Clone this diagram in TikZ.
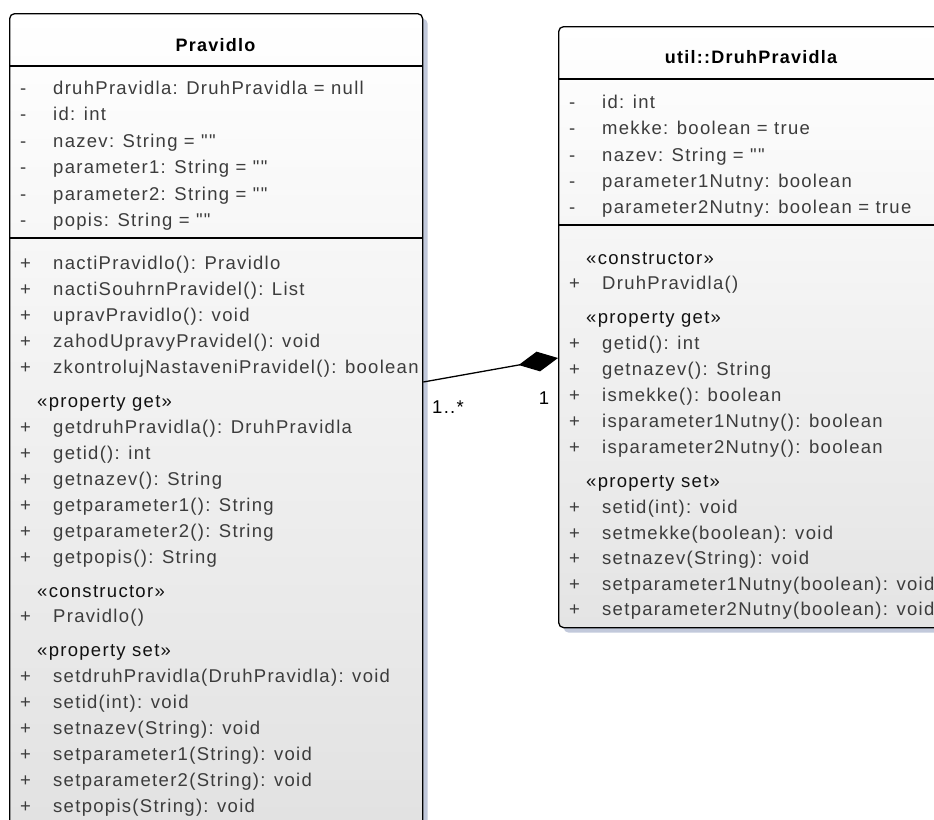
\documentclass[tikz,border=0pt]{standalone}
\usepackage{fontspec}
\newfontfamily\umlfont{Liberation Sans}[LetterSpace=7]
\usetikzlibrary{shadows,arrows.meta}
\definecolor{shadowc}{HTML}{C2C9DB}
\definecolor{botl}{HTML}{E1E1E1}
\definecolor{botr}{HTML}{E4E4E4}
\definecolor{memc}{HTML}{3C3C3C}
\definecolor{stc}{HTML}{111111}
\newcounter{lnc}
% #1 box left x, #2 y centre, #3 visibility, #4 text
\newcommand\mline[4]{%
  \stepcounter{lnc}%
  \node[vismark] (v\thelnc) at (#1+11,#2+6) {#3};%
  \node[member] (m\thelnc) at (#1+44,#2+6) {#4};}
\newcommand\sline[3]{%
  \stepcounter{lnc}%
  \node[stereo] (s\thelnc) at (#1+28,#2+6) {#3};}
\begin{document}
\begin{tikzpicture}[x=1pt,y=-1pt,
  every node/.style={font=\umlfont\fontsize{18.5}{22}\selectfont},
  classbox/.style={draw=black, line width=1.3pt, rounded corners=5pt,
    inner sep=0pt, top color=white,
    general shadow={fill=shadowc, shadow xshift=5pt, shadow yshift=-5pt}},
  sepline/.style={draw=black, line width=1.3pt},
  vismark/.style={anchor=base west, inner sep=0pt, text=memc},
  member/.style={anchor=base west, inner sep=0pt, text=memc},
  stereo/.style={anchor=base west, inner sep=0pt, text=stc},
  title/.style={anchor=base, inner sep=0pt, text=black,
    font=\umlfont\bfseries\fontsize{18}{22}\selectfont},
  mult/.style={inner sep=0pt, text=black},
  compo/.style={line width=1.3pt, draw=black,
    -{Diamond[length=40pt,width=20pt,fill=black]}}]
\useasboundingbox (0,0) rectangle (934,819);
\clip (0,0) rectangle (934,819);

% ---------- Pravidlo ----------
\node[classbox, bottom color=botl, minimum width=413pt, minimum height=835pt,
  anchor=north west] (pravidlo) at (9,13) {};
\draw[sepline] (9,66) -- (422,66);
\draw[sepline] (9,238) -- (422,238);
\node[title] (tp) at (215.5,51) {Pravidlo};
\mline{9}{88}{-}{druhPravidla: DruhPravidla = null}
\mline{9}{114}{-}{id: int}
\mline{9}{141}{-}{nazev: String = ""}
\mline{9}{167}{-}{parameter1: String = ""}
\mline{9}{194}{-}{parameter2: String = ""}
\mline{9}{220}{-}{popis: String = ""}
\mline{9}{263}{+}{nactiPravidlo(): Pravidlo}
\mline{9}{289}{+}{nactiSouhrnPravidel(): List}
\mline{9}{315}{+}{upravPravidlo(): void}
\mline{9}{341}{+}{zahodUpravyPravidel(): void}
\mline{9}{367}{+}{zkontrolujNastaveniPravidel(): boolean}
\sline{9}{401}{«property get»}
\mline{9}{427}{+}{getdruhPravidla(): DruhPravidla}
\mline{9}{453}{+}{getid(): int}
\mline{9}{479}{+}{getnazev(): String}
\mline{9}{505}{+}{getparameter1(): String}
\mline{9}{531}{+}{getparameter2(): String}
\mline{9}{557}{+}{getpopis(): String}
\sline{9}{591}{«constructor»}
\mline{9}{616}{+}{Pravidlo()}
\sline{9}{650}{«property set»}
\mline{9}{676}{+}{setdruhPravidla(DruhPravidla): void}
\mline{9}{702}{+}{setid(int): void}
\mline{9}{728}{+}{setnazev(String): void}
\mline{9}{754}{+}{setparameter1(String): void}
\mline{9}{780}{+}{setparameter2(String): void}
\mline{9}{806}{+}{setpopis(String): void}

% ---------- util::DruhPravidla ----------
\node[classbox, bottom color=botr, minimum width=386pt, minimum height=601pt,
  anchor=north west] (druh) at (558,26) {};
\draw[sepline] (558,79) -- (944,79);
\draw[sepline] (558,225) -- (944,225);
\node[title] (td) at (751,63) {util::DruhPravidla};
\mline{558}{102}{-}{id: int}
\mline{558}{128}{-}{mekke: boolean = true}
\mline{558}{155}{-}{nazev: String = ""}
\mline{558}{181}{-}{parameter1Nutny: boolean}
\mline{558}{207}{-}{parameter2Nutny: boolean = true}
\sline{558}{258}{«constructor»}
\mline{558}{283}{+}{DruhPravidla()}
\sline{558}{317}{«property get»}
\mline{558}{343}{+}{getid(): int}
\mline{558}{369}{+}{getnazev(): String}
\mline{558}{395}{+}{ismekke(): boolean}
\mline{558}{421}{+}{isparameter1Nutny(): boolean}
\mline{558}{447}{+}{isparameter2Nutny(): boolean}
\sline{558}{481}{«property set»}
\mline{558}{507}{+}{setid(int): void}
\mline{558}{533}{+}{setmekke(boolean): void}
\mline{558}{558}{+}{setnazev(String): void}
\mline{558}{584}{+}{setparameter1Nutny(boolean): void}
\mline{558}{609}{+}{setparameter2Nutny(boolean): void}

% ---------- composition ----------
\path (pravidlo.north east) ++(0,369) coordinate (c1);
\path (druh.north west) ++(0,332) coordinate (c2);
\draw[compo] (c1) -- (c2);
\node[mult, anchor=west] (m1) at (432,407) {1..*};
\node[mult] (m2) at (544,398) {1};
\end{tikzpicture}
\end{document}
